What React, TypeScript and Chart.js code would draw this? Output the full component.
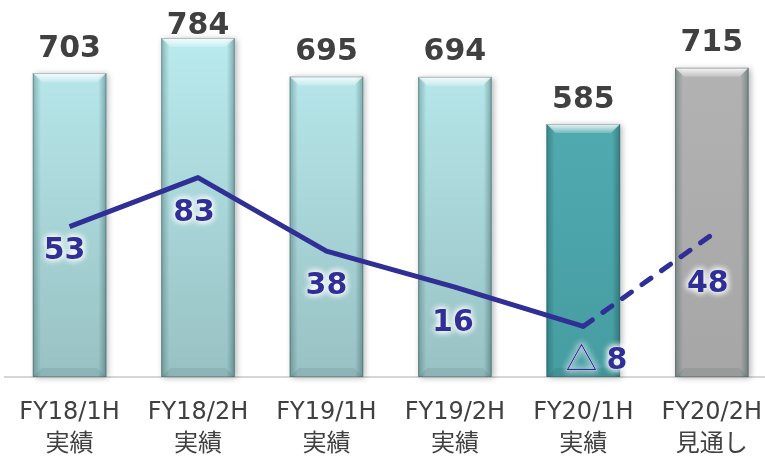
import React, { useEffect, useRef } from 'react';
import { Chart, registerables } from 'chart.js';

Chart.register(...registerables);

const categories: string[][] = [
  ['FY18/1H', '実績'],
  ['FY18/2H', '実績'],
  ['FY19/1H', '実績'],
  ['FY19/2H', '実績'],
  ['FY20/1H', '実績'],
  ['FY20/2H', '見通し'],
];
const salesValues = [703, 784, 695, 694, 585, 715];
const profitValues = [53, 83, 38, 16, -8, 48];

const barTopColors = ['#bdeff3', '#bdeff3', '#bdeff3', '#bdeff3', '#54b0b5', '#b5b5b5'];
const barBottomColors = ['#98c1c3', '#98c1c3', '#98c1c3', '#98c1c3', '#469da2', '#a6a6a6'];
const lineColor = '#302f96';
const lineLabelOffsets = [
  { dx: -5, dy: 21 },
  { dx: -4, dy: 32 },
  { dx: 0, dy: 32 },
  { dx: -2, dy: 33 },
  { dx: 13, dy: 32 },
  { dx: -4, dy: 46 },
];

const FONT = "'DejaVu Sans', 'Noto Sans CJK JP', sans-serif";

const barDecor = {
  id: 'barDecor',
  beforeDatasetDraw(chart: any, args: any) {
    if (args.index !== 1) return;
    const ctx = chart.ctx;
    const meta = chart.getDatasetMeta(1);
    meta.data.forEach((bar: any, i: number) => {
      const { x, y, base, width } = bar.getProps(['x', 'y', 'base', 'width'], true);
      ctx.save();
      ctx.shadowColor = 'rgba(0,0,0,0.28)';
      ctx.shadowBlur = 6;
      ctx.shadowOffsetX = 2;
      ctx.shadowOffsetY = 1;
      ctx.fillStyle = barBottomColors[i];
      ctx.fillRect(x - width / 2, y, width, base - y);
      ctx.restore();
    });
  },
  afterDatasetDraw(chart: any, args: any) {
    if (args.index !== 1) return;
    const ctx = chart.ctx;
    const meta = chart.getDatasetMeta(1);
    meta.data.forEach((bar: any) => {
      const { x, y, base, width } = bar.getProps(['x', 'y', 'base', 'width'], true);
      const x0 = x - width / 2;
      const x1 = x + width / 2;
      const top = y;
      const bot = base;
      const b = 9;
      ctx.save();
      let g = ctx.createLinearGradient(x0, 0, x0 + 8, 0);
      g.addColorStop(0, 'rgba(0,40,40,0.28)');
      g.addColorStop(1, 'rgba(0,40,40,0)');
      ctx.fillStyle = g;
      ctx.fillRect(x0, top, 8, bot - top);
      g = ctx.createLinearGradient(x1 - 8, 0, x1, 0);
      g.addColorStop(0, 'rgba(0,40,40,0)');
      g.addColorStop(1, 'rgba(0,40,40,0.32)');
      ctx.fillStyle = g;
      ctx.fillRect(x1 - 8, top, 8, bot - top);
      // top bevel
      ctx.beginPath();
      ctx.moveTo(x0, top);
      ctx.lineTo(x1, top);
      ctx.lineTo(x1 - b, top + b);
      ctx.lineTo(x0 + b, top + b);
      ctx.closePath();
      g = ctx.createLinearGradient(0, top, 0, top + b);
      g.addColorStop(0, 'rgba(255,255,255,0.9)');
      g.addColorStop(1, 'rgba(255,255,255,0.2)');
      ctx.fillStyle = g;
      ctx.fill();
      // bottom bevel
      ctx.beginPath();
      ctx.moveTo(x0, bot);
      ctx.lineTo(x1, bot);
      ctx.lineTo(x1 - b, bot - b);
      ctx.lineTo(x0 + b, bot - b);
      ctx.closePath();
      ctx.fillStyle = 'rgba(0,30,30,0.08)';
      ctx.fill();
      ctx.strokeStyle = 'rgba(60,80,80,0.35)';
      ctx.lineWidth = 1;
      ctx.strokeRect(x0 + 0.5, top + 0.5, width - 1, bot - top - 1);
      ctx.restore();
    });
  },
};

function glowText(ctx: any, text: string, x: number, y: number, color: string) {
  ctx.save();
  ctx.shadowColor = 'rgba(255,255,255,1)';
  ctx.shadowBlur = 7;
  ctx.fillStyle = 'rgba(255,255,255,0.9)';
  for (let k = 0; k < 3; k++) ctx.fillText(text, x, y);
  ctx.restore();
  ctx.fillStyle = color;
  ctx.fillText(text, x, y);
}

const valueLabels = {
  id: 'valueLabels',
  afterDatasetsDraw(chart: any) {
    const ctx = chart.ctx;
    ctx.save();
    ctx.font = `bold 30px ${FONT}`;
    ctx.textAlign = 'center';
    ctx.textBaseline = 'alphabetic';
    const barMeta = chart.getDatasetMeta(1);
    barMeta.data.forEach((bar: any, i: number) => {
      const { x, y } = bar.getProps(['x', 'y'], true);
      const by = Math.max(y - 16.5, 34.3);
      ctx.fillStyle = '#404040';
      ctx.fillText(String(salesValues[i]), x, by);
    });
    const lineMeta = chart.getDatasetMeta(0);
    lineMeta.data.forEach((pt: any, i: number) => {
      const { x, y } = pt.getProps(['x', 'y'], true);
      const v = profitValues[i];
      const off = lineLabelOffsets[i];
      const tx = x + off.dx;
      const ty = y + off.dy + 11;
      if (v < 0) {
        const num = String(Math.abs(v));
        ctx.font = `bold 30px ${FONT}`;
        const wN = ctx.measureText(num).width;
        ctx.font = `32px 'Noto Sans CJK JP', sans-serif`;
        const wT = ctx.measureText('△').width;
        const gap = 9;
        const total = wT + gap + wN;
        const sx = tx - total / 2;
        ctx.textAlign = 'left';
        glowText(ctx, '△', sx, ty + 1, lineColor);
        ctx.font = `bold 30px ${FONT}`;
        glowText(ctx, num, sx + wT + gap, ty, lineColor);
        ctx.textAlign = 'center';
      } else {
        ctx.font = `bold 30px ${FONT}`;
        glowText(ctx, String(v), tx, ty, lineColor);
      }
    });
    ctx.restore();
  },
};

export default function App() {
  const canvasRef = useRef<HTMLCanvasElement | null>(null);

  useEffect(() => {
    const canvas = canvasRef.current;
    if (!canvas) return;
    const chart = new Chart(canvas, {
      data: {
        labels: categories,
        datasets: [
          {
            type: 'line',
            label: '営業利益',
            data: profitValues,
            yAxisID: 'y2',
            borderColor: lineColor,
            borderWidth: 5,
            pointRadius: 0,
            tension: 0,
            borderJoinStyle: 'round',
            segment: {
              borderDash: (ctx: any) => (ctx.p1DataIndex === 5 ? [11, 13] : undefined),
              borderCapStyle: (ctx: any) => (ctx.p1DataIndex === 5 ? 'round' : 'butt'),
            },
            order: 0,
          } as any,
          {
            type: 'bar',
            label: '売上高',
            data: salesValues,
            yAxisID: 'y',
            backgroundColor: (c: any) => {
              const area = c.chart.chartArea;
              const i = c.dataIndex;
              if (!area) return barBottomColors[i];
              const g = c.chart.ctx.createLinearGradient(0, area.top, 0, area.bottom);
              g.addColorStop(0, barTopColors[i]);
              g.addColorStop(1, barBottomColors[i]);
              return g;
            },
            borderWidth: 0,
            barPercentage: 0.572,
            categoryPercentage: 1,
            order: 1,
          } as any,
        ],
      },
      options: {
        responsive: false,
        animation: false,
        events: [],
        layout: { padding: { left: 5.35, right: 0, top: 0, bottom: 0 } },
        plugins: {
          legend: { display: false },
          tooltip: { enabled: false },
        },
        scales: {
          x: {
            offset: true,
            grid: { display: false, drawTicks: false },
            border: { display: true, color: '#d6d6d6', width: 2 },
            ticks: {
              font: { family: FONT, size: 24, lineHeight: 1.32 },
              color: '#404040',
              padding: 20,
              maxRotation: 0,
              autoSkip: false,
            },
            afterFit: (s: any) => {
              s.height = 80;
              s.paddingLeft = 0;
              s.paddingRight = 0;
            },
          },
          y: { display: false, min: 0, max: 871.9 },
          y2: { display: false, min: -39, max: 191.6, position: 'right' },
        },
      } as any,
      plugins: [barDecor, valueLabels],
    });
    return () => chart.destroy();
  }, []);

  return (
    <div
      style={{
        position: 'fixed',
        left: 0,
        top: 0,
        width: 765,
        height: 457,
        overflow: 'hidden',
        background: '#ffffff',
      }}
    >
      <canvas ref={canvasRef} width={776} height={457} style={{ display: 'block' }} />
    </div>
  );
}
